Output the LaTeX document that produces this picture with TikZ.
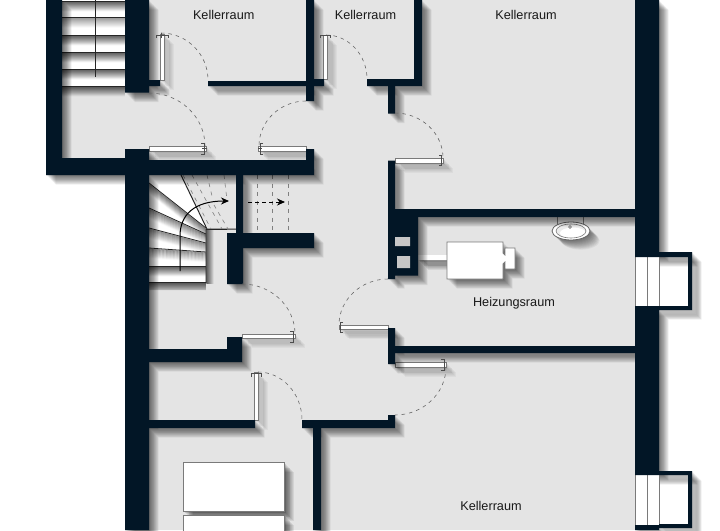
\documentclass[tikz,border=0pt]{standalone}
\usepackage{fontspec}
\setmainfont{Liberation Sans}
\usetikzlibrary{calc,arrows.meta}
\definecolor{wallc}{HTML}{021626}
\definecolor{floorc}{HTML}{E4E4E4}
\definecolor{edgec}{HTML}{7A7A7A}
\tikzset{
  wallfill/.style={fill=wallc},
  leaf/.style={fill=white,draw=edgec,line width=.7pt},
  swing/.style={draw=black!60,line width=.6pt,dash pattern=on 3.5pt off 4pt},
  tick/.style={draw=black!70,line width=.5pt},
  tread/.style={draw=black!85,line width=.8pt},
  flight/.style={draw=black!50,line width=.6pt,dash pattern=on 4pt off 4.5pt},
  room/.style={font=\fontsize{12.7}{14}\selectfont,text=black!90,inner sep=0pt},
  walk/.style={draw=black,line width=1pt,-{Stealth[length=8pt,width=7pt]}},
  walkd/.style={draw=black,line width=.9pt,dash pattern=on 4pt off 3pt,-{Stealth[length=8pt,width=7pt]}},
  furn/.style={fill=white,draw=edgec,line width=.8pt}
}
\newcommand\softshadow[2][.058]{\foreach \i in {1,...,12}{\fill[black,opacity=#1,shift={(.8*\i,.8*\i)}] #2;}}
\newcommand\wallpath{
  (46,0) rectangle (62,175)
  (46,158) rectangle (125,175)
  (125,149) rectangle (149,530)
  (149,160) rectangle (306,175)
  (306,149) rectangle (314,175)
  (125,0) rectangle (149,92.5)
  (149,80) rectangle (160,86)
  (208,81) rectangle (306,86)
  (306,0) rectangle (314,101)
  (314,79) rectangle (324,86)
  (414,0) rectangle (422,86)
  (367,79) rectangle (422,86)
  (388,86) rectangle (395,113.5)
  (388,160.5) rectangle (395,279)
  (395,209) rectangle (635,217)
  (395,217) rectangle (418,275.5)
  (635,0) rectangle (659,257)
  (635,306) rectangle (659,475)
  (635,525) rectangle (659,530)
  (659,252) rectangle (692,257)
  (688,252) rectangle (692,310)
  (659,306) rectangle (692,310)
  (659,471) rectangle (692,475)
  (688,471) rectangle (692,528)
  (659,524) rectangle (692,528)
  (388,328) rectangle (395,364)
  (395,346) rectangle (635,353)
  (149,349) rectangle (227,362)
  (227,337) rectangle (242,362)
  (149,420) rectangle (255,428)
  (302,420) rectangle (395,428)
  (388,415) rectangle (395,428)
  (313,428) rectangle (321,530)
  (236,175) rectangle (243,233)
  (227,233) rectangle (314,248)
  (227,248) rectangle (243,284)
}
\newcommand\swingarc[3]{\draw[swing] (#1) .. controls ($(#1)!.55!(#3)$) and ($(#2)!.55!(#3)$) .. (#2);}
\newcommand\doorleaf[4]{\softshadow[.035]{(#1,#2) rectangle (#3,#4)}\draw[leaf] (#1,#2) rectangle (#3,#4);}
\newcommand\steps[2]{%
  \foreach \k in {1,...,10}{\draw[black,opacity={.42-.04*\k},line width=1.1pt,shift={(0,\k)}] (#1) -- (#2);}%
  \draw[tread] (#1) -- (#2);}
\begin{document}
\begin{tikzpicture}[x=1pt,y=-1pt]
\useasboundingbox (0,0) rectangle (720,530);
\clip (0,0) rectangle (720,530);
\fill[white] (0,0) rectangle (720,530);
% floor
\fill[floorc] (46,0) rectangle (659,175) (125,175) rectangle (659,530);
% upper stair
\fill[white] (62,0) rectangle (125,86);
\begin{scope}
  \clip (62,0) rectangle (125,96);
  \foreach \y in {1,17.5,35,52,69,86}{\steps{62,\y}{125,\y}}
\end{scope}
\draw[tread,line width=1pt] (95,0) -- (95,77);
% lower stair
\fill[white] (149,175) -- (181,175) -- (208,229) -- (206,229) -- (206,282) -- (149,282) -- cycle;
\begin{scope}
  \clip (149,175) -- (181,175) -- (208,229) -- (206,229) -- (206,290) -- (149,290) -- cycle;
  \steps{149,183}{206,228}
  \steps{149,208}{206,234}
  \steps{149,228}{206,243}
  \steps{149,248}{206,252}
  \steps{149,266}{206,266}
  \steps{149,282}{206,282}
\end{scope}
\foreach \k in {1,...,7}{\draw[black,opacity={.4-.05*\k},line width=1.1pt,shift={(\k,0)}] (206,230) -- (206,284);}
\draw[tread,line width=1pt] (181,175) -- (207,229) -- (236,229) (206,229) -- (206,283);
\draw[flight] (183,175) -- (211,229);
\draw[flight] (192,175) -- (222,229);
\draw[flight] (207,175) -- (212,196) (214,205) -- (228,229);
\draw[flight] (224,175) -- (227,200);
\draw[flight] (257,175) -- (257,233);
\draw[flight] (272,175) -- (272,233);
\draw[flight] (288,175) -- (288,233);
\draw[walk] (180,271) -- (180,236) .. controls (180,215) and (194,201) .. (229,201);
\coordinate (dashfrom) at (248,202);
\coordinate (dashto) at (285,202);
\draw[walkd] (dashfrom) -- (dashto);
% furniture with shadows
\softshadow[.07]{(183,462) rectangle (284,511)}
\draw[furn] (183,462) rectangle (284,511);
\softshadow[.07]{(183,515) rectangle (284,540)}
\draw[furn] (183,515) rectangle (284,540);
\softshadow[.06]{(447,242) rectangle (503,279) (503,248) rectangle (515,269)}
\softshadow[.07]{(418,255) rectangle (447,260)}
\fill[white] (418,255) rectangle (447,260);
\draw[furn] (447,242) -- (503,242) -- (503,253) -- (505,255) -- (505,248) -- (515,248) -- (515,269) -- (505,269) -- (505,262) -- (503,264) -- (503,279) -- (447,279) -- cycle;
\softshadow[.05]{(571,231) ellipse [x radius=19,y radius=9]}
\draw[edgec,line width=.8pt] (557,217) -- (557,224) (583,217) -- (583,224);
\draw[furn,draw=black!60] (571,231) ellipse [x radius=19,y radius=9];
\fill[black!8] (571,231) ellipse [x radius=15,y radius=7];
\fill[white] (573,233) ellipse [x radius=13,y radius=5.5];
\draw[edgec,line width=.6pt] (571,231) ellipse [x radius=15,y radius=7];
\draw[edgec,fill=black!25,line width=.5pt] (570,227) circle (1.5);
% door leaves
\doorleaf{160.5}{34}{164}{80}
\doorleaf{149}{146}{206}{151}
\doorleaf{258}{146}{306}{151}
\doorleaf{323}{35}{327}{79}
\doorleaf{395}{158}{443}{163}
\doorleaf{242}{334}{295}{338}
\doorleaf{339}{325}{388}{329.5}
\doorleaf{395}{362}{446}{367}
\doorleaf{254.5}{372}{258}{420}
% walls
\softshadow{\wallpath}
\fill[white] (635,257) rectangle (659,306) (635,475) rectangle (659,525);
\draw[edgec,line width=.7pt] (635,257) -- (635,306) (647,257) -- (647,306) (659,257) -- (659,306);
\draw[edgec,line width=.7pt] (635,475) -- (635,525) (647,475) -- (647,525) (659,475) -- (659,525);
\fill[wallfill] \wallpath;
\fill[black!22] (395,237) rectangle (410,246) (397,256) rectangle (410,268);
% stair newel top edge
\draw[tread] (206,229) -- (227,229);
% door swings
\swingarc{161,33}{208,80}{208,33}
\swingarc{149,93}{205,146}{205,93}
\swingarc{306,101}{259,146}{259,101}
\swingarc{326,35}{367,79}{367,35}
\swingarc{395,113}{443,158}{443,113}
\swingarc{242,284}{295,334}{295,284}
\swingarc{388,279}{339,325}{339,279}
\swingarc{446,367}{395,415}{446,415}
\swingarc{258,372}{302,420}{302,372}
% door ticks
\draw[tick] (156,38) -- (156,35) -- (168,35) -- (168,38) (161,33) -- (161,38);
\draw[tick] (201,143) -- (204,143) -- (204,154) -- (201,154) (202,148.5) -- (207,148.5);
\draw[tick] (263,143) -- (260,143) -- (260,154) -- (263,154) (258,148.5) -- (262,148.5);
\draw[tick] (320,38) -- (320,35) -- (330,35) -- (330,38);
\draw[tick] (439,155) -- (441,155) -- (441,165) -- (439,165);
\draw[tick] (290,331) -- (293,331) -- (293,342) -- (290,342);
\draw[tick] (343,322) -- (340,322) -- (340,332) -- (343,332);
\draw[tick] (441,359) -- (444,359) -- (444,370) -- (441,370);
\draw[tick] (251,377) -- (251,373.5) -- (261,373.5) -- (261,377);
% labels
\node[room] (roomA) at (223.7,14.5) {Kellerraum};
\node[room] (roomB) at (365.5,15) {Kellerraum};
\node[room] (roomC) at (526,15) {Kellerraum};
\node[room] (roomD) at (514,303) {Heizungsraum};
\node[room] (roomE) at (491,506) {Kellerraum};
\end{tikzpicture}
\end{document}
